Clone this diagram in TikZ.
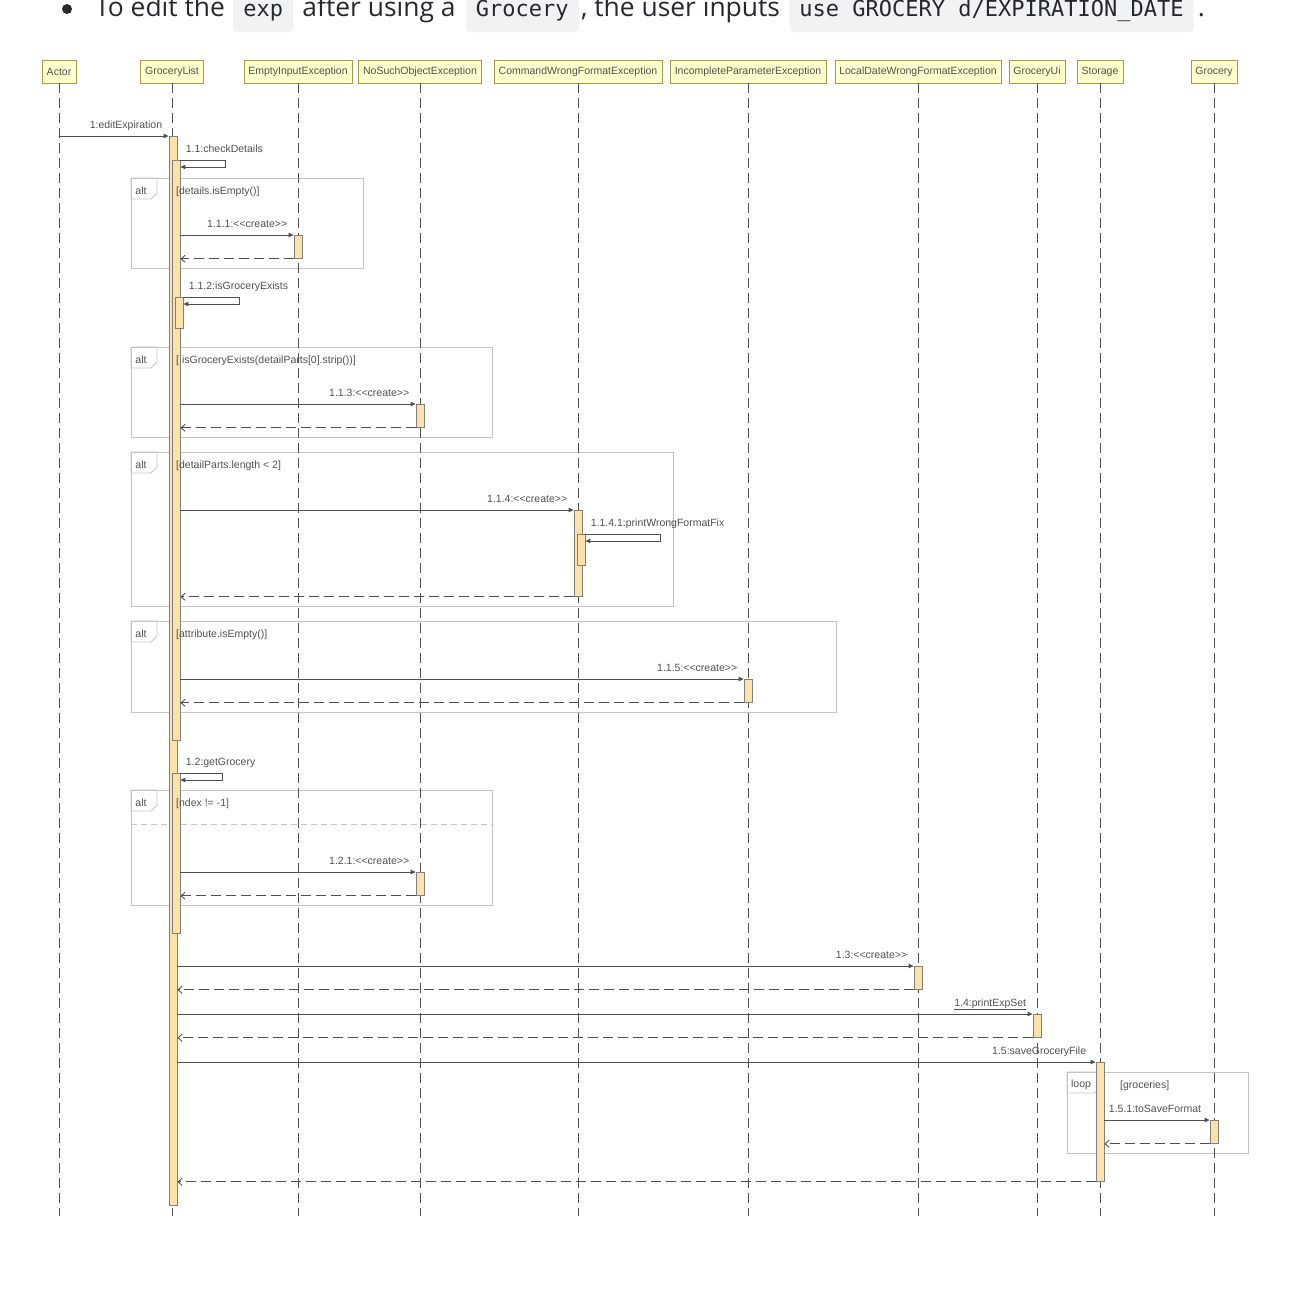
\documentclass[tikz,border=0pt]{standalone}
\usepackage{fontspec}
\setmainfont{Liberation Sans}[Ligatures=TeXOff]
\newfontfamily\topfont{Open Sans}
\newfontfamily\codefont{DejaVu Sans Mono}
\usetikzlibrary{arrows.meta,positioning}

\definecolor{headfill}{RGB}{255,255,204}
\definecolor{headline}{RGB}{172,152,70}
\definecolor{actfill}{RGB}{252,225,168}
\definecolor{ink}{RGB}{80,80,80}
\definecolor{framegray}{RGB}{196,196,196}
\definecolor{codebg}{RGB}{241,242,244}
\definecolor{toptext}{RGB}{36,41,47}

\begin{document}
\begin{tikzpicture}[x=1pt, y=-1pt,
  every node/.style={font=\fontsize{10.5}{12}\selectfont, text=ink},
  head/.style={draw=headline, fill=headfill, minimum height=23pt, inner xsep=4.5pt, inner ysep=0pt},
  life/.style={draw=ink, line width=0.9pt, dash pattern=on 10pt off 5pt},
  act/.style={draw=gray, fill=actfill, minimum width=8pt, inner sep=0pt, anchor=north, line width=0.8pt},
  call/.style={draw=ink, line width=0.9pt, -{Triangle[length=5pt,width=4.5pt]}},
  ret/.style={draw=ink, line width=0.9pt, dash pattern=on 10pt off 5pt, -{Straight Barb[length=4pt,width=7pt]}},
  lbl/.style={inner sep=0pt},
  msg/.style={lbl, anchor=base east, xshift=-6pt, yshift=8pt},
  smsg/.style={lbl, anchor=base west, xshift=5pt, yshift=8pt},
  guard/.style={lbl, anchor=west, yshift=-1.5pt},
  fr/.style={draw=framegray, line width=0.8pt},
  toptxt/.style={font=\topfont\fontsize{26.4}{30}\selectfont, text=toptext, inner sep=0pt},
  codebox/.style={font=\codefont\fontsize{22}{26}\selectfont, text=toptext, fill=codebg, rounded corners=4pt,
    inner xsep=10pt, inner ysep=0pt, text height=30pt, text depth=16pt},
]
\useasboundingbox (0,0) rectangle (1306,1302);

% line of text above the diagram
\node[circle, fill=toptext, minimum size=10pt, inner sep=0pt] (blt) at (67,9) {};
\node[toptxt, anchor=base west] (t1) at (95,16) {To edit the};
\node[codebox, right=8pt of t1.base east, anchor=base west] (c1) {exp};
\node[toptxt, right=9pt of c1.base east, anchor=base west] (t2) {after using a};
\node[codebox, right=10pt of t2.base east, anchor=base west] (c2) {Grocery};
\node[toptxt, right=2pt of c2.base east, anchor=base west] (t3) {, the user inputs};
\node[codebox, right=9pt of t3.base east, anchor=base west] (c3) {use GROCERY d/EXPIRATION\_DATE};
\node[toptxt, right=4pt of c3.base east, anchor=base west] (t4) {.};

% frames
\foreach \xa/\ya/\xb/\yb in {131/178/363/268, 131/347/492/437, 131/452/673/606, 131/621/836/712, 131/790/492/905}{
  \draw[fr] (\xa,\ya) rectangle (\xb,\yb);
  \draw[fr] (\xa,\ya) -| (\xa+26,\ya+15) -- (\xa+20,\ya+21) -| (\xa,\ya);
  \node[lbl] at (\xa+10,\ya+13) {alt};
}
\draw[fr, dash pattern=on 6pt off 4pt] (131,824) -- (492,824);
\draw[fr] (1067,1072) rectangle (1248,1153);
\draw[fr] (1067,1072) -| (1101,1087) -- (1095,1093) -| (1067,1072);
\node[lbl] at (1081,1085) {loop};

% lifelines
\foreach \n/\x/\t in {actor/59/Actor, glist/172/GroceryList, emptyex/298/EmptyInputException,
    nosuchex/420/NoSuchObjectException, cmdex/578/CommandWrongFormatException,
    incompex/748/IncompleteParameterException, dateex/918/LocalDateWrongFormatException,
    ui/1037/GroceryUi, storage/1100/Storage, grocery/1214/Grocery}{
  \node[head] (\n) at (\x,71.5) {\t};
  \coordinate (\n-end) at (\x,1216);
  \draw[life] (\n) -- (\n-end);
}

% activations
\node[act, minimum height=1069pt] (gl0) at (173,136) {};
\node[act, minimum height=580pt] (gl1) at (176,160) {};
\node[act, minimum height=31pt] (gl2) at (179,297) {};
\node[act, minimum height=160pt] (gl3) at (176,773) {};
\node[act, minimum height=23pt] (em1) at (298,235) {};
\node[act, minimum height=23pt] (ns1) at (420,404) {};
\node[act, minimum height=86pt] (cw1) at (578,510) {};
\node[act, minimum height=31pt] (cw2) at (581,534) {};
\node[act, minimum height=23pt] (ip1) at (748,679) {};
\node[act, minimum height=23pt] (ns2) at (420,872) {};
\node[act, minimum height=23pt] (ld1) at (918,966) {};
\node[act, minimum height=23pt] (ui1) at (1037,1014) {};
\node[act, minimum height=119pt] (st1) at (1100,1062) {};
\node[act, minimum height=23pt] (gr1) at (1214,1120) {};

% messages
\draw[call] (actor |- gl0.north) -- (gl0.north west) node[msg] {1:editExpiration};
\draw[call] (gl1.north east) node[smsg] {1.1:checkDetails} -- ++(45,0) -- ++(0,7) -- ([yshift=-7pt]gl1.north east);
\draw[call] (gl1.east |- em1.north) -- (em1.north west) node[msg] {1.1.1:<<create>>};
\draw[ret] (em1.south west) -- (gl1.east |- em1.south);
\draw[call] (gl2.north east) node[smsg] {1.1.2:isGroceryExists} -- ++(56,0) -- ++(0,7) -- ([yshift=-7pt]gl2.north east);
\draw[call] (gl1.east |- ns1.north) -- (ns1.north west) node[msg] {1.1.3:<<create>>};
\draw[ret] (ns1.south west) -- (gl1.east |- ns1.south);
\draw[call] (gl1.east |- cw1.north) -- (cw1.north west) node[msg] {1.1.4:<<create>>};
\draw[call] (cw2.north east) node[smsg] {1.1.4.1:printWrongFormatFix} -- ++(75,0) -- ++(0,7) -- ([yshift=-7pt]cw2.north east);
\draw[ret] (cw1.south west) -- (gl1.east |- cw1.south);
\draw[call] (gl1.east |- ip1.north) -- (ip1.north west) node[msg] {1.1.5:<<create>>};
\draw[ret] (ip1.south west) -- (gl1.east |- ip1.south);
\draw[call] (gl3.north east) node[smsg] {1.2:getGrocery} -- ++(42,0) -- ++(0,7) -- ([yshift=-7pt]gl3.north east);
\draw[call] (gl3.east |- ns2.north) -- (ns2.north west) node[msg] {1.2.1:<<create>>};
\draw[ret] (ns2.south west) -- (gl3.east |- ns2.south);
\draw[call] (gl0.east |- ld1.north) -- (ld1.north west) node[msg] {1.3:<<create>>};
\draw[ret] (ld1.south west) -- (gl0.east |- ld1.south);
\draw[call] (gl0.east |- ui1.north) -- (ui1.north west) node[msg] {\underline{1.4:printExpSet}};
\draw[ret] (ui1.south west) -- (gl0.east |- ui1.south);
\draw[call] (gl0.east |- st1.north) -- (st1.north west) node[msg, xshift=-3pt] {1.5:saveGroceryFile};
\draw[call] (st1.east |- gr1.north) -- (gr1.north west) node[msg, xshift=-2pt] {1.5.1:toSaveFormat};
\draw[ret] (gr1.south west) -- (st1.east |- gr1.south);
\draw[ret] (st1.south west) -- (gl0.east |- st1.south);

% guards
\node[guard] at (176,190) {[details.isEmpty()]};
\node[guard] at (176,359) {[ isGroceryExists(detailParts[0].strip())]};
\node[guard] at (176,464) {[detailParts.length < 2]};
\node[guard] at (176,633) {[attribute.isEmpty()]};
\node[guard] at (176,802) {[ndex != -1]};
\node[guard] at (1120,1084) {[groceries]};
\end{tikzpicture}
\end{document}
